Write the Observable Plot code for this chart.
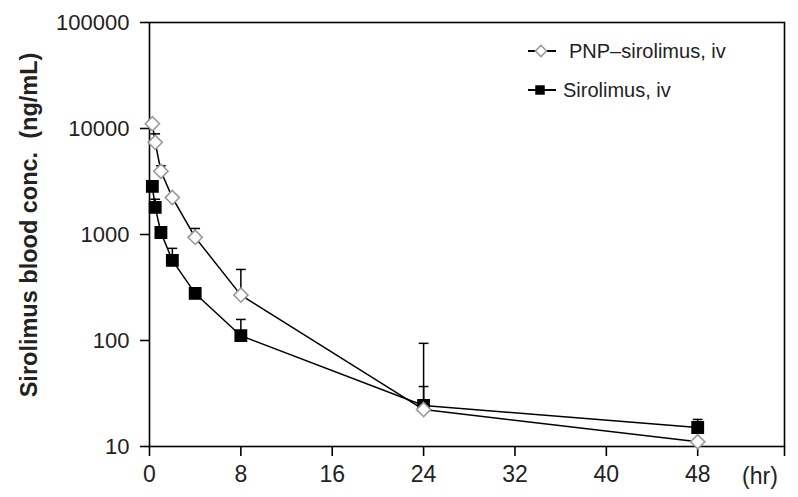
<!DOCTYPE html>
<html>
<head>
<meta charset="utf-8">
<script src="https://cdn.jsdelivr.net/npm/d3@7"></script>
<script src="https://cdn.jsdelivr.net/npm/@observablehq/plot@0.6"></script>
<style>
  html, body { margin: 0; padding: 0; background: #fff; }
  #chart svg { display: block; }
</style>
</head>
<body>
<div id="chart"></div>
<script>
// Time points (hr)
const times = [0.25, 0.5, 1, 2, 4, 8, 24, 48];
// PNP-sirolimus, iv (ng/mL)
const pnpMean  = [11100, 7400, 3950, 2230, 940, 268, 22.3, 11.1];
const pnpUpper = [null, 8900, 4450, null, 1140, 468, 94, null];
// Sirolimus, iv (ng/mL)
const sirMean  = [2840, 1800, 1045, 570, 278, 111, 24.4, 15.1];
const sirUpper = [null, 2150, 1140, 740, null, 158, 36.8, 18.0];
// Axis ticks
const xTicks = [0, 8, 16, 24, 32, 40, 48];
const yTicks = [10, 100, 1000, 10000, 100000];
const seriesNames = ["PNP\u2013sirolimus, iv", "Sirolimus, iv"];

const pnp = times.map((t, i) => ({t, v: pnpMean[i], up: pnpUpper[i]}));
const sir = times.map((t, i) => ({t, v: sirMean[i], up: sirUpper[i]}));
const pnpErr = pnp.filter(d => d.up != null);
const sirErr = sir.filter(d => d.up != null);

const capSymbol = {
  draw(context, size) {
    const w = Math.sqrt(size) / 2;
    context.moveTo(-w, 0);
    context.lineTo(w, 0);
  }
};

const xMax = 55.6;
const fontTick = "Liberation Sans, Arial, sans-serif";
const fontNarrow = "Liberation Sans Narrow, Arial Narrow, sans-serif";

const chart = Plot.plot({
  width: 798,
  height: 497,
  marginLeft: 149,
  marginRight: 14,
  marginTop: 22,
  marginBottom: 51,
  style: {background: "#fff", fontFamily: fontTick},
  x: {domain: [0, xMax]},
  y: {type: "log", domain: [10, 100000]},
  marks: [
    Plot.frame({stroke: "#000", strokeWidth: 1.6}),
    Plot.axisY({ticks: yTicks, tickFormat: d => String(d), tickSize: 9, tickPadding: 11,
      fontSize: 22, label: null, stroke: "#000", strokeWidth: 1.6, color: "#222"}),
    Plot.axisX({ticks: [...xTicks, xMax], tickFormat: d => d === xMax ? "" : String(d), tickSize: 10,
      tickPadding: 9, fontSize: 23, label: null, stroke: "#000", strokeWidth: 1.6,
      fontFamily: fontNarrow, color: "#222"}),
    Plot.line(pnp, {x: "t", y: "v", stroke: "#000", strokeWidth: 1.5}),
    Plot.line(sir, {x: "t", y: "v", stroke: "#000", strokeWidth: 1.5}),
    Plot.ruleX(pnpErr, {x: "t", y1: "v", y2: "up", stroke: "#000", strokeWidth: 1.5}),
    Plot.ruleX(sirErr, {x: "t", y1: "v", y2: "up", stroke: "#000", strokeWidth: 1.5}),
    Plot.dot(pnpErr, {x: "t", y: "up", symbol: capSymbol, r: 5.5, stroke: "#000", strokeWidth: 1.5}),
    Plot.dot(sirErr, {x: "t", y: "up", symbol: capSymbol, r: 5.5, stroke: "#000", strokeWidth: 1.5}),
    Plot.dot(sir, {x: "t", y: "v", symbol: "square", r: 6.4, fill: "#000", stroke: "#000"}),
    Plot.dot(pnp, {x: "t", y: "v", symbol: "diamond2", r: 6.4, fill: "#fff", stroke: "#9a9a9a", strokeWidth: 1.6})
  ]
});

const svg = d3.select(chart);
// "(hr)" unit label at the end of the x axis
svg.append("text")
  .attr("x", 760).attr("y", 484)
  .attr("text-anchor", "middle")
  .attr("font-family", fontNarrow)
  .attr("font-size", 23).attr("fill", "#222")
  .text("(hr)");

// Y axis title
svg.append("text")
  .attr("transform", "translate(37,225) rotate(-90)")
  .attr("text-anchor", "middle")
  .attr("font-family", fontTick)
  .attr("font-weight", "bold")
  .attr("font-size", 23.5).attr("fill", "#222")
  .attr("xml:space", "preserve")
  .style("white-space", "pre")
  .text("Sirolimus blood conc.  (ng/mL)");

// Legend
const lg = svg.append("g").attr("text-anchor", "start");
const items = [
  {y: 51, name: seriesNames[0], type: "diamond", tx: 569},
  {y: 90, name: seriesNames[1], type: "square", tx: 563}
];
items.forEach(it => {
  lg.append("line").attr("x1", 528).attr("x2", 556).attr("y1", it.y).attr("y2", it.y)
    .attr("stroke", "#000").attr("stroke-width", 2);
  if (it.type === "diamond") {
    lg.append("path").attr("d", d3.symbol(d3.symbolDiamond2, 80)())
      .attr("transform", `translate(541,${it.y})`)
      .attr("fill", "#fff").attr("stroke", "#9a9a9a").attr("stroke-width", 1.5);
  } else {
    lg.append("path").attr("d", d3.symbol(d3.symbolSquare, 90)())
      .attr("transform", `translate(540,${it.y})`)
      .attr("fill", "#000");
  }
  lg.append("text").attr("x", it.tx).attr("y", it.y).attr("dy", "0.35em")
    .attr("text-anchor", "start")
    .attr("font-family", fontTick)
    .attr("font-size", 20).attr("fill", "#222").text(it.name);
});

document.getElementById("chart").appendChild(chart);
</script>
</body>
</html>
